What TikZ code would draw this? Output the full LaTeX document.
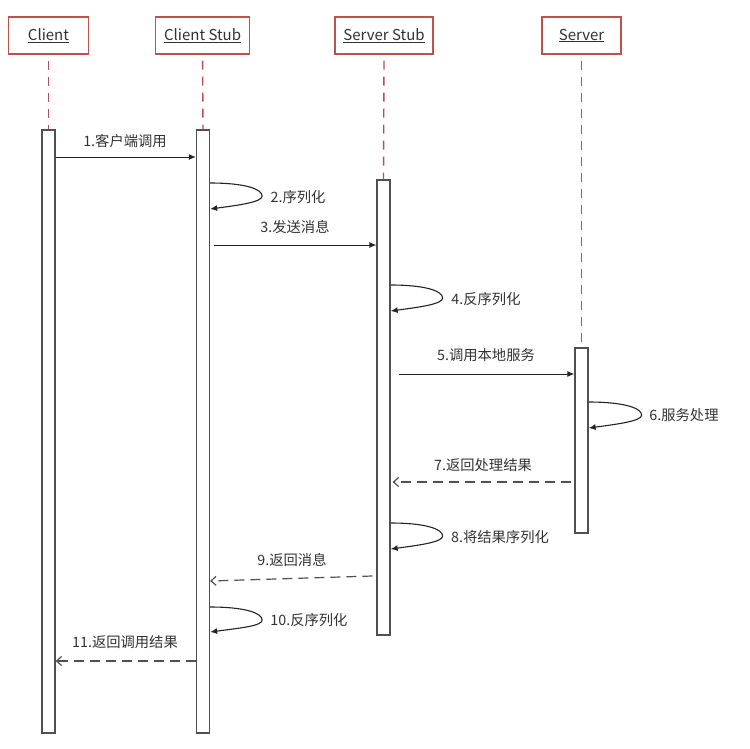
\documentclass[tikz,border=0pt]{standalone}
\usepackage{fontspec}
\setmainfont{Noto Sans CJK SC}
\usetikzlibrary{arrows.meta}
\definecolor{boxred}{RGB}{192,80,77}
\definecolor{lifered}{RGB}{185,80,88}
\definecolor{txtgray}{RGB}{50,50,50}
\definecolor{linedark}{RGB}{35,35,35}
\definecolor{retgray}{RGB}{80,80,80}
\begin{document}
\begin{tikzpicture}[x=1pt,y=-1pt,
  head/.style={draw=boxred,line width=1.3pt,fill=white,minimum height=37pt,inner sep=0pt,
    text=txtgray,font=\fontsize{15}{18}\selectfont},
  life/.style={draw=lifered,line width=1.4pt,dash pattern=on 9pt off 7pt},
  bar/.style={draw=retgray,line width=1.3pt,fill=white,minimum width=13pt,inner sep=0pt},
  msg/.style={draw=linedark,line width=1pt,-{Latex[length=7pt,width=6pt]}},
  loopmsg/.style={draw=linedark,line width=1.1pt,-{Latex[length=7pt,width=6pt]}},
  ret/.style={draw=retgray,line width=1.2pt,dash pattern=on 10pt off 6pt,-{Straight Barb[length=5pt,width=9pt]}},
  lbl/.style={text=txtgray,font=\fontsize{14.3}{17}\selectfont,inner sep=0pt}]
\useasboundingbox (0,0) rectangle (750,748);
% headers
\node[head,minimum width=80pt] (client) at (48.5,35.5) {\underline{Client}};
\node[head,minimum width=94pt] (cstub) at (202.6,35.5) {\underline{Client Stub}};
\node[head,minimum width=98pt] (sstub) at (384,35.5) {\underline{Server Stub}};
\node[head,minimum width=79pt] (server) at (581.5,35.5) {\underline{Server}};
% activation bars
\node[bar,minimum height=603pt] (clientbar) at (48.5,431.5) {};
\node[bar,minimum height=603pt] (cstubbar) at (203,431.5) {};
\node[bar,minimum height=455pt] (sstubbar) at (383.5,407.5) {};
\node[bar,minimum height=185pt] (serverbar) at (581.5,440.5) {};
% lifelines
\draw[life] ([yshift=-6pt]client.south) -- (clientbar.north);
\draw[life] ([yshift=-6pt]cstub.south) -- (cstubbar.north);
\draw[life] ([yshift=-6pt]sstub.south) -- (sstubbar.north);
\draw[life] ([yshift=-6pt]server.south) -- (serverbar.north);
% messages
\draw[msg] (clientbar.east |- 0,157) -- (cstubbar.west |- 0,157);
\node[lbl] (l1) at (125,141) {1.客户端调用};
\draw[loopmsg] (cstubbar.east |- 0,183) .. controls +(35,0) and +(0,-7) .. ++(52,13)
  .. controls +(0,6) and +(30,-4) .. (cstubbar.east |- 0,209);
\node[lbl] (l2) at (298,197) {2.序列化};
\draw[msg] ([xshift=4pt]cstubbar.east |- 0,245) -- (sstubbar.west |- 0,245);
\node[lbl] (l3) at (295,227) {3.发送消息};
\draw[loopmsg] (sstubbar.east |- 0,285) .. controls +(35,0) and +(0,-7) .. ++(52,13)
  .. controls +(0,6) and +(30,-4) .. (sstubbar.east |- 0,311);
\node[lbl] (l4) at (486,299) {4.反序列化};
\draw[msg] ([xshift=8pt]sstubbar.east |- 0,374) -- (serverbar.west |- 0,374);
\node[lbl] (l5) at (486,355) {5.调用本地服务};
\draw[loopmsg] (serverbar.east |- 0,402) .. controls +(35,0) and +(0,-7) .. ++(53,13)
  .. controls +(0,6) and +(30,-4) .. (serverbar.east |- 0,428);
\node[lbl] (l6) at (684,415) {6.服务处理};
\draw[ret] ([xshift=-3pt]serverbar.west |- 0,482) -- ([xshift=2pt]sstubbar.east |- 0,482);
\node[lbl] (l7) at (483,465) {7.返回处理结果};
\draw[loopmsg] (sstubbar.east |- 0,523) .. controls +(35,0) and +(0,-7) .. ++(52,13)
  .. controls +(0,6) and +(30,-4) .. (sstubbar.east |- 0,549);
\node[lbl] (l8) at (500,537) {8.将结果序列化};
\draw[ret] ([xshift=-4pt]sstubbar.west |- 0,576) -- (cstubbar.east |- 0,581);
\node[lbl] (l9) at (292,560) {9.返回消息};
\draw[loopmsg] (cstubbar.east |- 0,607) .. controls +(35,0) and +(0,-7) .. ++(52,13)
  .. controls +(0,6) and +(30,-4) .. (cstubbar.east |- 0,632);
\node[lbl] (l10) at (309,620) {10.反序列化};
\draw[ret] (cstubbar.west |- 0,661) -- (clientbar.east |- 0,661);
\node[lbl] (l11) at (125,642) {11.返回调用结果};
\end{tikzpicture}
\end{document}
